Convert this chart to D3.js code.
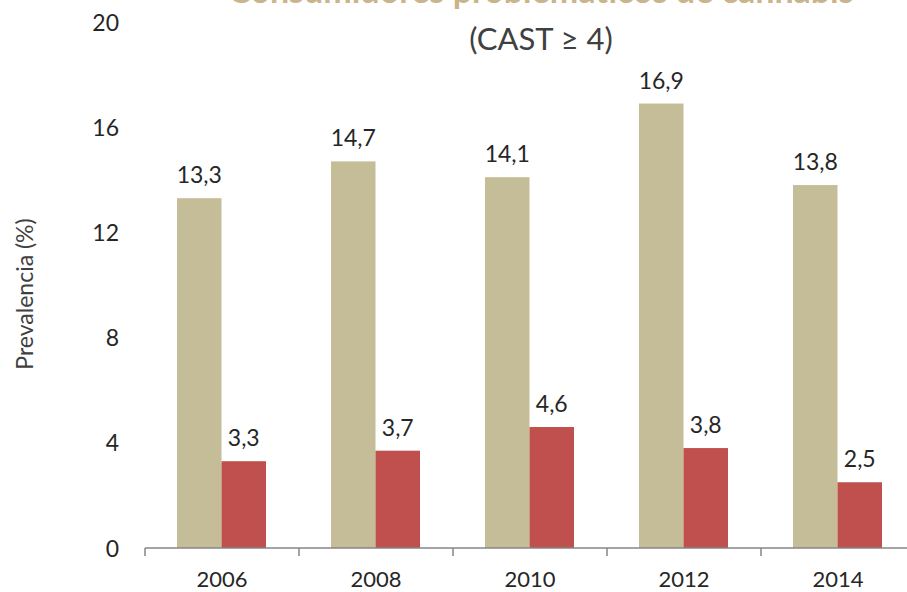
<!DOCTYPE html>
<html>
<head>
<meta charset="utf-8">
<script src="https://cdn.jsdelivr.net/npm/d3@7"></script>
<style>
  body { margin: 0; background: #fff; }
  text { font-family: Lato, "Open Sans", sans-serif; }
</style>
</head>
<body>
<div id="chart"></div>
<script>
// data
const years = ["2006", "2008", "2010", "2012", "2014"];
const series = ["total", "problematic"];
const totalValues = [13.3, 14.7, 14.1, 16.9, 13.8];
const problematicValues = [3.3, 3.7, 4.6, 3.8, 2.5];
const yTicks = [0, 4, 8, 12, 16, 20];
const colors = ["#c4bd97", "#c0504d"];

const W = 907, H = 592;

const svg = d3.select("#chart")
    .append("svg")
    .attr("width", W)
    .attr("height", H);

const rows = years.map((y, i) => ({ year: y, values: [totalValues[i], problematicValues[i]] }));

const x = d3.scaleBand()
    .domain(years)
    .range([145, 915])
    .padding(0);

const x1 = d3.scaleBand()
    .domain(series)
    .range([32, x.bandwidth() - 33])
    .padding(0);

const y = d3.scaleLinear()
    .domain([0, 20])
    .range([548, 22]);

// title (first line is cut off at the top of the picture)
svg.append("text")
    .attr("x", 541)
    .attr("y", 3)
    .attr("text-anchor", "middle")
    .attr("font-size", 34)
    .attr("font-weight", "bold")
    .attr("fill", "#c9b48c")
    .text("Consumidores problemáticos de cannabis");

svg.append("text")
    .attr("x", 541)
    .attr("y", 50)
    .attr("text-anchor", "middle")
    .attr("font-size", 31)
    .attr("fill", "#404040")
    .text("(CAST ≥ 4)");

// bars
const groups = svg.selectAll(".year")
    .data(rows)
    .join("g")
    .attr("class", "year")
    .attr("transform", d => `translate(${x(d.year)},0)`);

groups.selectAll("rect")
    .data(d => d.values.map((v, j) => ({ key: series[j], value: v, color: colors[j] })))
    .join("rect")
    .attr("x", d => x1(d.key))
    .attr("width", x1.bandwidth())
    .attr("y", d => y(d.value))
    .attr("height", d => y(0) - y(d.value))
    .attr("fill", d => d.color);

groups.selectAll(".lbl")
    .data(d => d.values.map((v, j) => ({ key: series[j], value: v })))
    .join("text")
    .attr("class", "lbl")
    .attr("x", d => x1(d.key) + x1.bandwidth() / 2)
    .attr("y", d => y(d.value) - 15)
    .attr("text-anchor", "middle")
    .attr("font-size", 23)
    .attr("fill", "#262626")
    .text(d => d3.format(".1f")(d.value).replace(".", ","));

// x axis
const xAxis = svg.append("g")
    .attr("transform", `translate(0,${y(0)})`);

xAxis.append("line")
    .attr("x1", x.range()[0])
    .attr("x2", W)
    .attr("stroke", "#868686")
    .attr("stroke-width", 1.5);

xAxis.selectAll(".tk")
    .data(years)
    .join("line")
    .attr("class", "tk")
    .attr("x1", d => x(d))
    .attr("x2", d => x(d))
    .attr("y1", 0)
    .attr("y2", 8)
    .attr("stroke", "#868686")
    .attr("stroke-width", 1.5);

xAxis.call(g => g.append("g")
    .call(d3.axisBottom(x).tickSize(0).tickPadding(0))
    .call(a => a.select(".domain").remove())
    .selectAll("text")
    .attr("dy", null)
    .attr("y", 39)
    .attr("font-size", 22)
    .attr("font-family", "Lato, sans-serif")
    .attr("fill", "#262626"));

// y axis
svg.append("g")
    .attr("transform", "translate(121,0)")
    .call(d3.axisLeft(y).tickValues(yTicks).tickSize(0).tickPadding(2))
    .call(g => g.select(".domain").remove())
    .selectAll("text")
    .attr("dy", "0.35em")
    .attr("font-size", 23)
    .attr("font-family", "Lato, sans-serif")
    .attr("fill", "#262626");

svg.append("text")
    .attr("transform", "translate(33,294) rotate(-90)")
    .attr("text-anchor", "middle")
    .attr("font-size", 23)
    .attr("fill", "#404040")
    .text("Prevalencia (%)");
</script>
</body>
</html>
